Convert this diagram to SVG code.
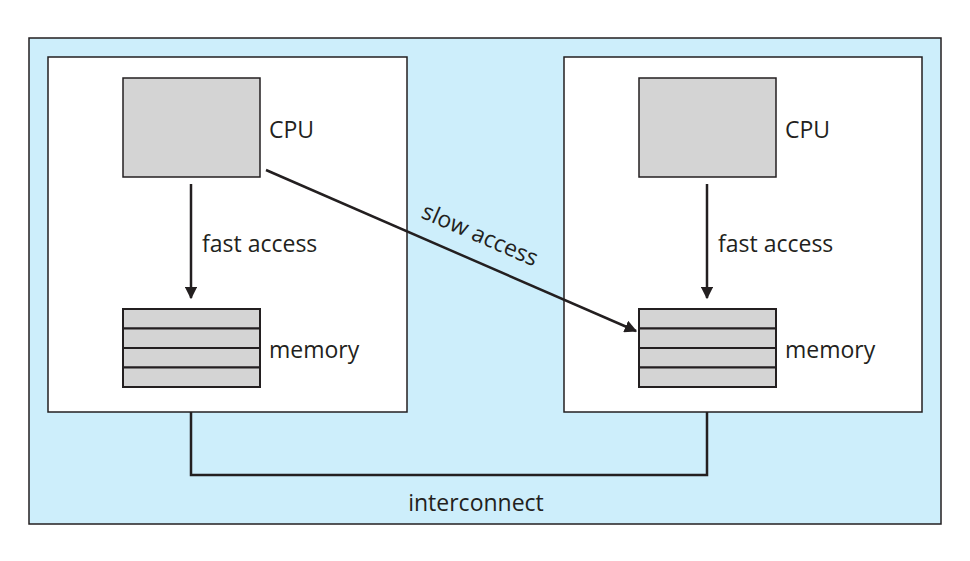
<svg xmlns="http://www.w3.org/2000/svg" width="970" height="561" viewBox="0 0 970 561">
<style>
text{font-family:"Open Sans","Noto Sans",sans-serif;font-size:23px;fill:#231f20}
.node{fill:#fff;stroke:#231f20;stroke-width:1.5}
.cpu{fill:#d4d4d4;stroke:#231f20;stroke-width:1.5}
.mem{fill:#d4d4d4;stroke:#231f20;stroke-width:2}
.ln{stroke:#231f20;stroke-width:2.5;fill:none}
</style>
<defs><marker id="ah" viewBox="0 0 10 10" refX="9" refY="5" markerWidth="5" markerHeight="5" orient="auto"><path d="M0,0L10,5L0,10z" fill="#231f20"/></marker></defs>
<rect x="29" y="38" width="912" height="486" fill="#cdeefb" stroke="#231f20" stroke-width="1.5"/>
<g id="left">
<rect class="node" x="48" y="57" width="359" height="355"/>
<rect class="cpu" x="123" y="78" width="137" height="99"/>
<text x="269" y="138">CPU</text>
<g class="mem"><rect x="123" y="309" width="137" height="19.5"/><rect x="123" y="328.5" width="137" height="19.5"/><rect x="123" y="348" width="137" height="19.5"/><rect x="123" y="367.5" width="137" height="19.5"/></g>
<text x="269" y="358">memory</text>
<text x="202" y="252">fast access</text>
</g>
<g id="right">
<rect class="node" x="564" y="57" width="358" height="355"/>
<rect class="cpu" x="639" y="78" width="137" height="99"/>
<text x="785" y="138">CPU</text>
<g class="mem"><rect x="639" y="309" width="137" height="19.5"/><rect x="639" y="328.5" width="137" height="19.5"/><rect x="639" y="348" width="137" height="19.5"/><rect x="639" y="367.5" width="137" height="19.5"/></g>
<text x="785" y="358">memory</text>
<text x="718" y="252">fast access</text>
</g>
<g id="connectors">
<line class="ln" x1="191" y1="184" x2="191" y2="298" marker-end="url(#ah)"/>
<line class="ln" x1="707" y1="184" x2="707" y2="298" marker-end="url(#ah)"/>
<line class="ln" x1="266" y1="170" x2="636" y2="331" marker-end="url(#ah)"/>
<polyline class="ln" points="191,412 191,475 707,475 707,412"/>
<text x="477" y="242" text-anchor="middle" transform="rotate(23.5 477 242)">slow access</text>
<text x="476" y="511" text-anchor="middle">interconnect</text>
</g>
</svg>
